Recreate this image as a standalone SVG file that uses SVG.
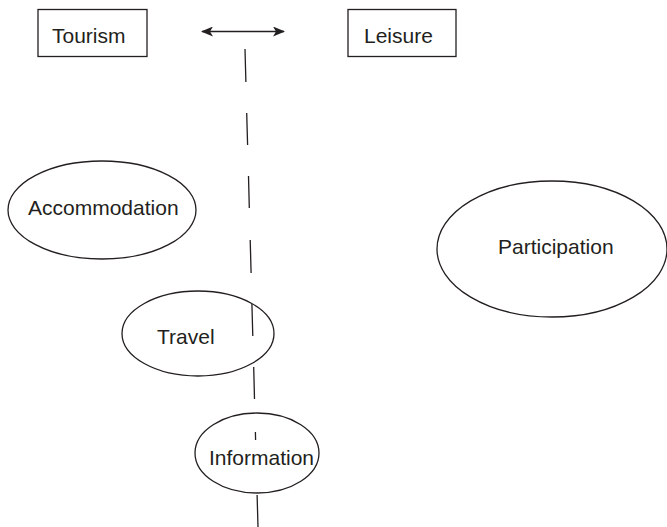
<svg xmlns="http://www.w3.org/2000/svg" width="667" height="527" viewBox="0 0 667 527">
  <style>
    .box { fill: #ffffff; stroke: #231f20; stroke-width: 1.3; }
    .oval { fill: none; stroke: #231f20; stroke-width: 1.3; }
    .label { font-family: "Liberation Sans", Arial, sans-serif; font-size: 21px; fill: #231f20; }
    .link { fill: none; stroke: #231f20; stroke-width: 1.3; }
  </style>
  <defs>
    <marker id="head" viewBox="0 0 12 10" refX="11" refY="5" markerWidth="12" markerHeight="10" markerUnits="userSpaceOnUse" orient="auto-start-reverse">
      <path d="M0,0 L12,5 L0,10 L3,5 Z" fill="#231f20"/>
    </marker>
  </defs>
  <rect width="667" height="527" fill="#ffffff"/>

  <g id="connectors">
    <!-- two-way arrow between the boxes -->
    <line class="link" x1="202" y1="31.5" x2="284" y2="31.5" marker-start="url(#head)" marker-end="url(#head)"/>
    <!-- long-dash dividing line -->
    <path class="link" d="M245,49 L245.9,82 M246.7,113 L247.6,145 M248.5,176 L249.3,208 M250.2,240 L251.1,273 M251.9,304 L252.8,336 M253.7,367 L254.5,399 M255.4,432 L255.6,440 M257.1,495 L258,527"/>
  </g>

  <g id="tourism">
    <rect class="box" x="38" y="9.5" width="109" height="47"/>
    <text class="label" x="52" y="43">Tourism</text>
  </g>

  <g id="leisure">
    <rect class="box" x="348" y="9.5" width="108" height="47"/>
    <text class="label" x="364" y="43">Leisure</text>
  </g>

  <g id="accommodation">
    <ellipse class="oval" cx="102" cy="210" rx="94" ry="49"/>
    <text class="label" x="28" y="215">Accommodation</text>
  </g>

  <g id="participation">
    <ellipse class="oval" cx="552" cy="249" rx="115" ry="68"/>
    <text class="label" x="498" y="254">Participation</text>
  </g>

  <g id="travel">
    <ellipse class="oval" cx="198" cy="333.5" rx="76" ry="42.5"/>
    <text class="label" x="157" y="344">Travel</text>
  </g>

  <g id="information">
    <ellipse class="oval" cx="257" cy="453" rx="62" ry="40"/>
    <text class="label" x="209" y="465">Information</text>
  </g>
</svg>
